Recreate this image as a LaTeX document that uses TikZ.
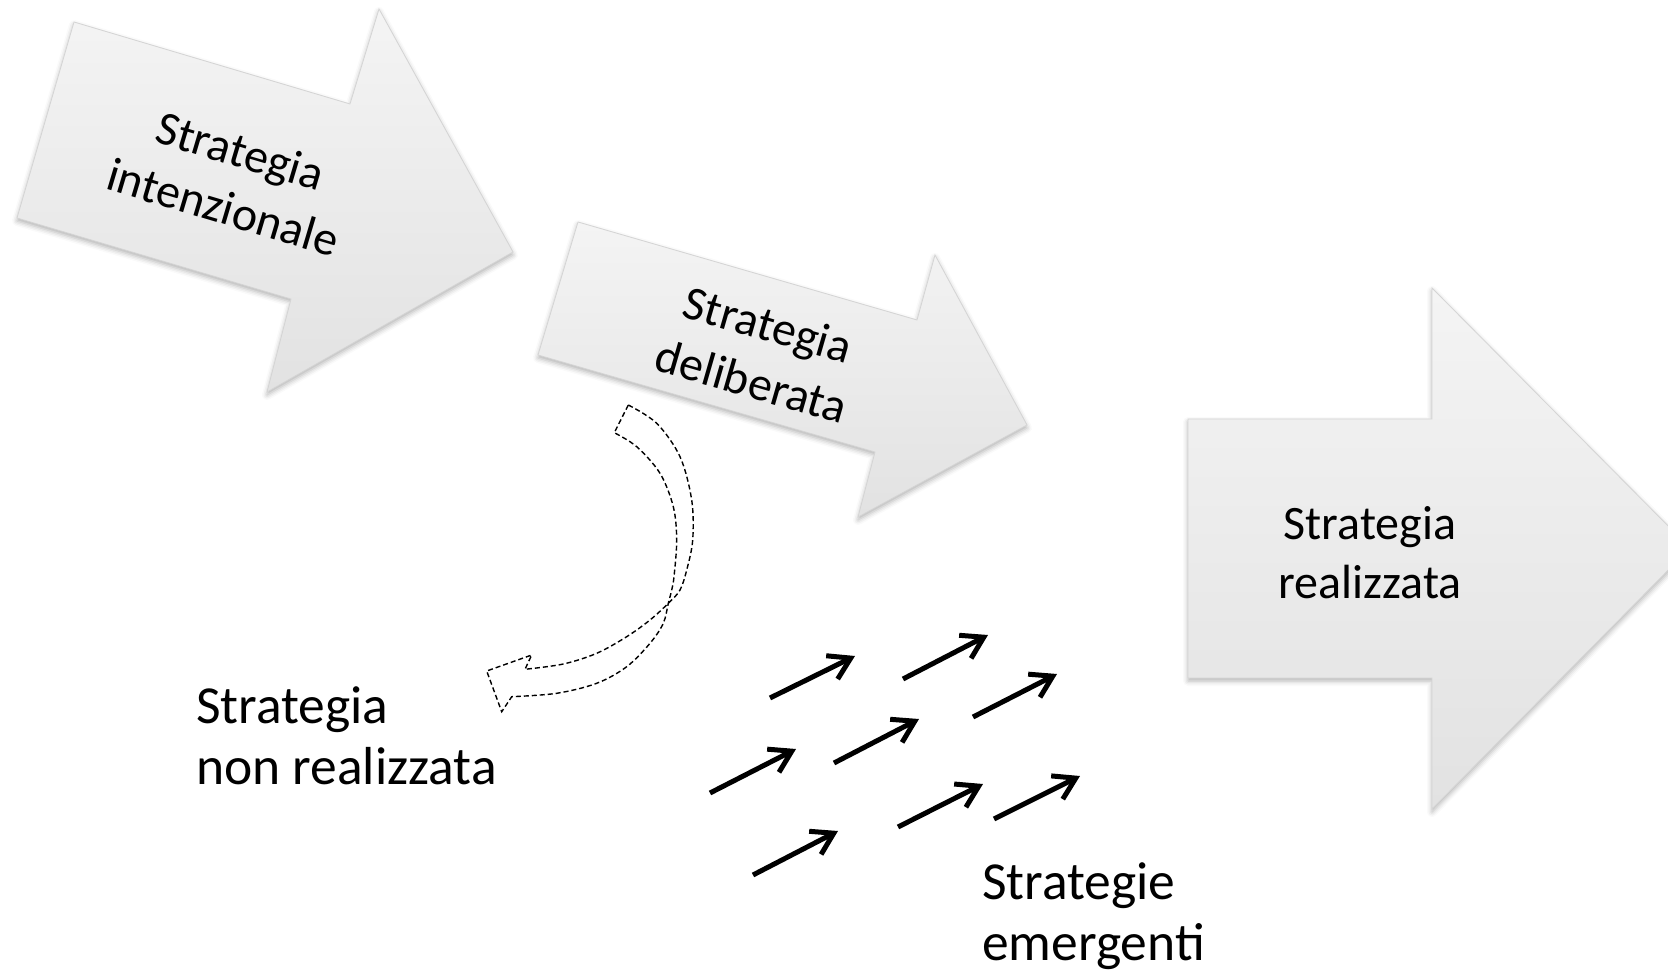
\documentclass[tikz,border=0pt]{standalone}
\usepackage{fontspec}
\setmainfont{Carlito}
\usetikzlibrary{arrows.meta,shadows.blur}

\definecolor{arrowtop}{RGB}{244,244,244}
\definecolor{arrowbottom}{RGB}{226,226,226}
\definecolor{arrowedge}{RGB}{212,212,212}

\tikzset{
  bigarrow/.style={top color=arrowtop, bottom color=arrowbottom, draw=arrowedge,
    line width=0.8pt, line join=miter,
    blur shadow={shadow xshift=0pt, shadow yshift=-3pt, shadow blur radius=5pt, shadow opacity=30}},
  caption/.style={font=\fontsize{48}{59}\selectfont, align=center, inner sep=0pt},
  freetext/.style={font=\fontsize{53.5}{61}\selectfont, align=left, inner sep=0pt},
  emerge/.style={line width=5pt, -{Straight Barb[length=21pt,width=26pt]}},
  curvedarrow/.style={draw=black, fill=white, line width=1.4pt,
    dash pattern=on 5pt off 3pt, line join=miter}
}

\begin{document}
\begin{tikzpicture}[x=1pt,y=-1pt]
\path[use as bounding box] (0,0) rectangle (1668,973);
\clip (0,0) rectangle (1668,973);

% intended strategy
\draw[bigarrow] (74,22) -- (350,104) -- (379,9) -- (513,252) -- (267,392)
  -- (291,299) -- (17,218) -- cycle;
\node[caption, rotate=-16.6] (intent) at (232,179) {Strategia\\intenzionale};

% deliberate strategy
\draw[bigarrow] (578,222) -- (917,320) -- (935,255) -- (1027,425) -- (858,517)
  -- (875,452) -- (538,355) -- cycle;
\node[caption, rotate=-16.1] (delib) at (760,353) {Strategia\\deliberata};

% realized strategy
\draw[bigarrow] (1188,419) -- (1432,419) -- (1432,288) -- (1690,548) -- (1432,809)
  -- (1432,678) -- (1188,678) -- cycle;
\node[caption] (real) at (1370,553) {Strategia\\realizzata};

% curved dashed arrow towards the unrealized strategy
\path[curvedarrow]
  plot[smooth, tension=0.55] coordinates {(628.3,405) (656.7,423.3) (680,456.7)
    (691.7,500) (692.7,540) (686.7,570) (680,590) (668.3,603.3) (650,620)
    (626.7,636.7) (596.7,653.3) (563.3,664) (525,669.3)}
  -- (531.7,655) -- (486.7,671) -- (501.7,711.7) -- (511.7,696.7)
  -- plot[smooth, tension=0.55] coordinates {(511.7,696.7) (556.7,693.3)
    (596.7,683.3) (626.7,666.7) (650,643.3) (663.3,623.3) (668.3,603.3)
    (671.7,590) (674,576.7) (676.7,540) (673.3,506.7) (660,473.3)
    (636.7,446.7) (614.3,432.7)}
  -- cycle;

\node[freetext, anchor=base west] (unreal) at (196,784) {Strategia\\non realizzata};

% emergent strategies
\coordinate (e1s) at (770,698);  \coordinate (e1e) at (855,656);
\coordinate (e2s) at (903,679);  \coordinate (e2e) at (988,635);
\coordinate (e3s) at (973,717);  \coordinate (e3e) at (1057,674);
\coordinate (e4s) at (710,793);  \coordinate (e4e) at (796,749);
\coordinate (e5s) at (834,763);  \coordinate (e5e) at (919,719);
\coordinate (e6s) at (753,875);  \coordinate (e6e) at (838,831);
\coordinate (e7s) at (898,827);  \coordinate (e7e) at (983,784);
\coordinate (e8s) at (994,819);  \coordinate (e8e) at (1080,776);
\foreach \i in {1,...,8} \draw[emerge] (e\i s) -- (e\i e);

\node[freetext, anchor=base west] (emergent) at (982,960) {Strategie\\emergenti};
\end{tikzpicture}
\end{document}
